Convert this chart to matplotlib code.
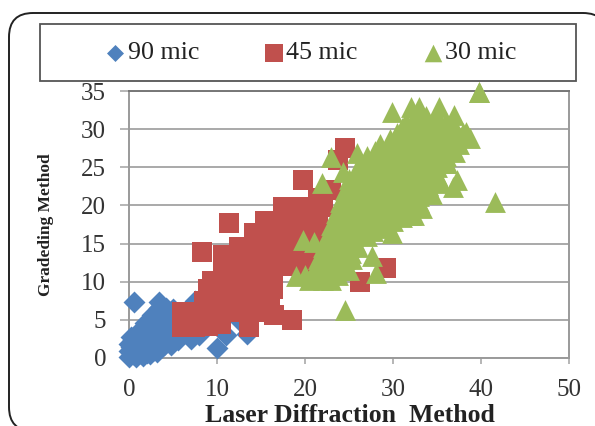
import matplotlib
matplotlib.use("Agg")
import matplotlib.pyplot as plt
from matplotlib.patches import FancyBboxPatch, Rectangle

x90 = [0,0.8,1.6,2.4,3.2,0,0.8,1.6,2.4,3.2,4,4.8,0,0.8,1.6,2.4,3.2,4,4.8,5.6,0.2,1,1.8,2.6,3.4,4.2,5,5.8,7,1,1.8,2.6,3.4,4.2,5,1.8,2.6,3.4,4.2,5,5.5,2.6,3.4,4.2,5,3.4,4.2,5,3.4,0.6,7,7.5,10,11,12.5,13.4,5,6.5,8,0.2,6,0.4,1.2,2,2.8,0.5,1.3,2.1,2.9,3.7]
y90 = [0.1,0.1,0.3,0.5,0.8,0.9,1,1.1,1.3,1.6,1.7,1.7,1.8,1.9,2,2,2.2,2.5,2.5,2.3,2.7,2.8,2.9,3,3.2,3.3,3.4,3,2.5,3.4,3.7,3.9,4,4.2,4.3,4.6,4.8,4.9,5,5.2,5,5.6,5.8,5.9,6,6.6,6.6,6.4,7.3,7.3,3,7.5,1.3,3,5,3.2,3.4,3.5,3,1.5,5,0.5,0.6,0.7,1,2.3,2.4,2.5,2.6,2.9]

x45 = [6,7.5,9,10.5,6,7.5,9,10.5,12,13.5,15,8.5,10,11.5,13,14.5,16,9,10.5,12,13.5,15,16.4,9.4,11,12.5,14,15.5,16.4,10.7,12,13.5,15,16.5,18,19.5,10.7,12.5,14,15.5,17,18.5,20,12.5,14.5,15,16.5,18,19.5,21,14.2,15.5,17,18.5,20,21.5,15.5,17,18.5,20,21.5,17.5,19,20.5,22,21.5,23,16,16.5,18.5,13.6,8.3,11.4,19.8,24.5,23.7,26.3,29.2]
y45 = [4,4,4.2,4.5,6,6,6,6,6,6,6,7.5,7.5,7.5,7.5,7.5,7.5,9,9,9,9,9,9,10.1,10.5,10.5,10.5,10.5,10.5,12,12,12,12,12,12,12,13.5,13.5,13.5,13.5,13.5,13.5,13.5,14.5,15,15,15,15,15,15,16.4,16.5,16.5,16.5,16.5,16.5,18,18,18,18,18,19.8,19.8,19.8,19.8,21,22,6.5,5.7,5,4,13.9,17.7,23.3,27.5,26,10,11.8]

x30 = [39.8,41.6,24.5,27.6,28.1,29.9,29.9,32.1,33,35.2,36.9,38.3,38.8,25.9,23,21.9,24.3,36.8,37.3,36.1,35,19.8,19,
       20.5,22,23,21,22.5,24,25,21.5,23,24.5,25.3,22,23.5,25,26,22.5,24,25.5,27,23,24.5,26,27.5,28.5,
       23.5,25,26.5,28,29.5,31,24,25.5,27,28.5,30,31.5,32.5,24.5,26,27.5,29,30.5,32,33,
       25,26.5,28,29.5,31,32.5,34,26,27.5,29,30.5,32,33.5,35,27,28.5,30,31.5,33,34.5,36,
       28.5,30,31.5,33,34.5,36,37.5,30.5,32,33.5,35,36.5,38,31.5,33,34.5,36,28.3,29.7,
       20,21.2,22.7,23.7,21.7,23.2,24.7,22.2,23.7,25.2,21,22.7,24.2,25.7,23.2,24.7,26.2,27.7,
       23.7,25.2,26.7,28.2,29.7,24.2,25.7,27.2,28.7,30.2,31.7,24.7,26.2,27.7,29.2,30.7,32.2,33,
       25.2,26.7,28.2,29.7,31.2,32.7,34,26,27.2,28.7,30.2,31.7,33.2,34.7,27,28.2,29.7,31.2,32.7,34.2,35.7,
       28,29.2,30.7,32.2,33.7,35.2,36.7,29.7,31.2,32.7,34.2,35.7,37.2,31,32.7,34.2,35.7,37,32.5,33.7,35,
       32.4,33,34,35,36,37,29,30,31,32,33.3,34.4,35.4]
y30 = [34.9,20.5,6.3,13.4,11.2,16.4,32.3,32.9,32.9,32.9,31.8,29.6,28.8,26.9,26.3,22.9,24.4,22.4,23.3,25.6,27.3,15.5,10.8,
       10.2,10.2,10.2,11.5,11.5,11.5,11.5,13,13,13,13,14.5,14.5,14.5,14.5,16,16,16,16,17.5,17.5,17.5,17.5,17.5,
       19,19,19,19,19,19,20.5,20.5,20.5,20.5,20.5,20.5,20.5,22,22,22,22,22,22,22,
       23.5,23.5,23.5,23.5,23.5,23.5,23.5,25,25,25,25,25,25,25,26.5,26.5,26.5,26.5,26.5,26.5,26.5,
       28,28,28,28,28,28,28,29.5,29.5,29.5,29.5,29.5,29.5,31,31,31,31,27,28.3,
       10.9,10.9,10.9,10.9,12.2,12.2,12.2,13.7,13.7,13.7,15.2,15.2,15.2,15.2,16.7,16.7,16.7,16.7,
       18.2,18.2,18.2,18.2,18.2,19.7,19.7,19.7,19.7,19.7,19.7,21.2,21.2,21.2,21.2,21.2,21.2,21.2,
       22.7,22.7,22.7,22.7,22.7,22.7,22.7,24.2,24.2,24.2,24.2,24.2,24.2,24.2,25.7,25.7,25.7,25.7,25.7,25.7,25.7,
       27.2,27.2,27.2,27.2,27.2,27.2,27.2,28.7,28.7,28.7,28.7,28.7,28.7,30.2,30.2,30.2,30.2,30.2,31.7,31.7,31.7,
       18.7,20.5,22.5,24,25.5,27,17,18,18.5,18.7,19.7,21.5,23]

legend_labels = ["90 mic", "45 mic", "30 mic"]
x_ticks = [0, 10, 20, 30, 40, 50]
y_ticks = [0, 5, 10, 15, 20, 25, 30, 35]

W, H = 595, 426
SERIF = "Liberation Serif"
BLUE, RED, GREEN = "#4F81BD", "#C0504D", "#9BBB59"

fig = plt.figure(figsize=(W/100, H/100), dpi=100)
bg = fig.add_axes([0, 0, 1, 1], zorder=0)
bg.set_xlim(0, W); bg.set_ylim(H, 0); bg.axis("off")
bg.add_patch(FancyBboxPatch((33, 37), 550, 370, boxstyle="round,pad=24,rounding_size=24",
                            fc="white", ec="#222222", lw=1.4, clip_on=True))

ax = fig.add_axes([129/W, 1-358/H, (569-129)/W, (358-91)/H], zorder=1)
ax.patch.set_alpha(0)
ax.set_xlim(0, 50); ax.set_ylim(0, 35)
ax.set_xticks(x_ticks); ax.set_yticks(y_ticks)
ax.grid(axis="y", color="#a9a9a9", lw=1.4)
ax.set_axisbelow(True)
for s in ax.spines.values():
    s.set_color("#9a9a9a"); s.set_linewidth(1.4)
ax.spines["top"].set_color("#777777")
ax.tick_params(axis="y", length=6.5, width=1.2, color="#a9a9a9", pad=10, labelsize=18, labelcolor="#333333")
ax.tick_params(axis="x", length=4, width=1.2, color="#a9a9a9", pad=11, labelsize=18, labelcolor="#333333")
for lab in ax.get_xticklabels() + ax.get_yticklabels():
    lab.set_family(SERIF)

ax.scatter(x90, y90, marker="D", s=125, c=BLUE, lw=0, clip_on=False, zorder=3)
ax.scatter(x45, y45, marker="s", s=225, c=RED, lw=0, clip_on=False, zorder=4)
ax.scatter(x30, y30, marker="^", s=225, c=GREEN, lw=0, clip_on=False, zorder=5)

bg.text(350, 416, "Laser Diffraction  Method", family=SERIF, weight="bold", fontsize=18.5,
        color="#222222", ha="center", va="center")
bg.text(46, 225, "Gradeding Method", family=SERIF, weight="bold", fontsize=12.5,
        color="#222222", ha="center", va="center", rotation=90)

top = fig.add_axes([0, 0, 1, 1], zorder=3)
top.set_xlim(0, W); top.set_ylim(H, 0); top.axis("off")
top.add_patch(Rectangle((40, 24), 536, 57, fc="white", ec="#555555", lw=1.3))
for mx, tx, mk, col, s, lab in [(115, 128, "D", BLUE, 75, legend_labels[0]),
                                (274, 286, "s", RED, 160, legend_labels[1]),
                                (433, 445, "^", GREEN, 160, legend_labels[2])]:
    top.scatter([mx], [52.5], marker=mk, s=s, c=col, lw=0)
    top.text(tx, 53, lab, family=SERIF, fontsize=18.7, color="#222222", ha="left", va="center")

ax2 = fig.add_axes(ax.get_position(), zorder=4)
ax2.set_xlim(0, 50); ax2.set_ylim(0, 35); ax2.axis("off")
ax2.scatter(x30[:1], y30[:1], marker="^", s=225, c=GREEN, lw=0, clip_on=False)

fig.savefig("out.png", dpi=100)
